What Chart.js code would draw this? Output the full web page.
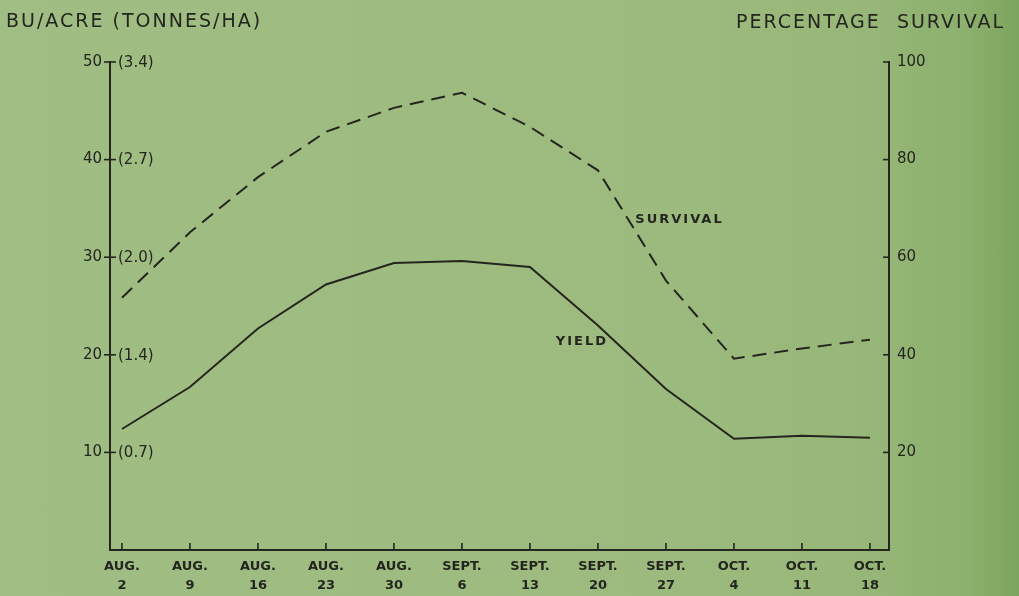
<!DOCTYPE html>
<html>
<head>
<meta charset="utf-8">
<script src="https://cdn.jsdelivr.net/npm/chart.js@4.4.0/dist/chart.umd.min.js"></script>
<style>
  html, body { margin: 0; padding: 0; }
  body {
    width: 1019px; height: 596px; overflow: hidden;
    background: linear-gradient(to right, #a0bd83 0%, #9dbb7f 60%, #97b778 85%, #8cb06d 95%, #7ba55d 100%);
  }
  #wrap { position: relative; width: 1019px; height: 596px; }
</style>
</head>
<body>
<div id="wrap"><canvas id="yieldSurvivalChart"></canvas></div>
<script>
// Data
const dates = [
  ["AUG.", "2"], ["AUG.", "9"], ["AUG.", "16"], ["AUG.", "23"], ["AUG.", "30"],
  ["SEPT.", "6"], ["SEPT.", "13"], ["SEPT.", "20"], ["SEPT.", "27"],
  ["OCT.", "4"], ["OCT.", "11"], ["OCT.", "18"]
];
const yieldBu = [12.4, 16.7, 22.7, 27.2, 29.4, 29.6, 29.0, 23.0, 16.5, 11.4, 11.7, 11.5];
const survivalPct = [51.7, 65.1, 76.4, 85.7, 90.6, 93.7, 86.7, 77.8, 55.2, 39.2, 41.3, 43.1];
const buTicks = [10, 20, 30, 40, 50];
const tonneLabels = ["(0.7)", "(1.4)", "(2.0)", "(2.7)", "(3.4)"];
const pctTicks = [20, 40, 60, 80, 100];

const ink = '#25251f';
const font = '"DejaVu Sans", sans-serif';

const toPoints = arr => arr.map((v, i) => ({ x: i, y: v }));

// extra drawing: inner tick marks, bracket labels, titles, line labels
const decorations = {
  id: 'decorations',
  afterDraw(chart) {
    const { ctx, chartArea, scales } = chart;
    const xs = scales.x, yl = scales.y, yr = scales.y2;
    ctx.save();
    ctx.strokeStyle = ink;
    ctx.fillStyle = ink;
    ctx.lineWidth = 1.6;

    // left axis ticks cross the axis, tonnes labels inside
    ctx.font = '15px ' + font;
    ctx.textAlign = 'left';
    ctx.textBaseline = 'middle';
    buTicks.forEach((v, i) => {
      const y = yl.getPixelForValue(v);
      ctx.beginPath();
      ctx.moveTo(chartArea.left - 6, y);
      ctx.lineTo(chartArea.left + 6, y);
      ctx.stroke();
      ctx.fillText(tonneLabels[i], chartArea.left + 8, y + 1);
    });

    // right axis ticks point inward
    pctTicks.forEach(v => {
      const y = yr.getPixelForValue(v);
      ctx.beginPath();
      ctx.moveTo(chartArea.right - 6, y);
      ctx.lineTo(chartArea.right, y);
      ctx.stroke();
    });

    // x axis ticks point up
    dates.forEach((d, i) => {
      const x = xs.getPixelForValue(i);
      ctx.beginPath();
      ctx.moveTo(x, chartArea.bottom - 7);
      ctx.lineTo(x, chartArea.bottom);
      ctx.stroke();
    });

    // axis titles
    ctx.font = '19px ' + font;
    ctx.textBaseline = 'middle';
    ctx.letterSpacing = '2px';
    ctx.textAlign = 'left';
    ctx.fillText('BU/ACRE (TONNES/HA)', 6, 22);
    ctx.textAlign = 'right';
    ctx.fillText('PERCENTAGE  SURVIVAL', 1005, 23);

    // line labels
    ctx.font = 'bold 13px ' + font;
    ctx.letterSpacing = '2px';
    ctx.textAlign = 'left';
    ctx.fillText('SURVIVAL', xs.getPixelForValue(7.55), yl.getPixelForValue(33.8));
    ctx.fillText('YIELD', xs.getPixelForValue(6.38), yl.getPixelForValue(21.4));
    ctx.restore();
  }
};

const config = {
  type: 'line',
  data: {
    datasets: [
      {
        label: 'Survival',
        data: toPoints(survivalPct),
        yAxisID: 'y2',
        borderColor: ink,
        borderWidth: 2,
        borderDash: [14, 8],
        pointRadius: 0,
        tension: 0
      },
      {
        label: 'Yield',
        data: toPoints(yieldBu),
        yAxisID: 'y',
        borderColor: ink,
        borderWidth: 2,
        pointRadius: 0,
        tension: 0
      }
    ]
  },
  options: {
    responsive: true,
    maintainAspectRatio: false,
    animation: false,
    layout: { padding: { top: 62, left: 0, right: 0, bottom: 0 } },
    plugins: {
      legend: { display: false },
      tooltip: { enabled: false }
    },
    scales: {
      x: {
        type: 'linear',
        min: -0.176,
        max: 11.28,
        afterBuildTicks: s => { s.ticks = dates.map((d, i) => ({ value: i })); },
        afterFit: s => { s.height = 46; },
        grid: { display: false, drawTicks: false },
        border: { display: true, color: ink, width: 2 },
        ticks: {
          autoSkip: false,
          maxRotation: 0,
          padding: 7,
          color: ink,
          font: { family: font, size: 13, weight: 'bold', lineHeight: 1.45 },
          callback: v => dates[v] || ''
        }
      },
      y: {
        position: 'left',
        min: 0,
        max: 50,
        afterFit: s => { s.width = 110; },
        grid: { display: false, drawTicks: false },
        border: { display: true, color: ink, width: 2 },
        ticks: {
          stepSize: 10,
          padding: 8,
          color: ink,
          font: { family: font, size: 15 },
          callback: v => v === 0 ? '' : v
        }
      },
      y2: {
        position: 'right',
        min: 0,
        max: 100,
        afterFit: s => { s.width = 130; },
        grid: { display: false, drawTicks: false },
        border: { display: true, color: ink, width: 2 },
        ticks: {
          stepSize: 20,
          padding: 8,
          color: ink,
          font: { family: font, size: 15 },
          callback: v => v === 0 ? '' : v
        }
      }
    }
  },
  plugins: [decorations]
};

window.addEventListener('DOMContentLoaded', () => {
  new Chart(document.getElementById('yieldSurvivalChart'), config);
});
</script>
</body>
</html>
